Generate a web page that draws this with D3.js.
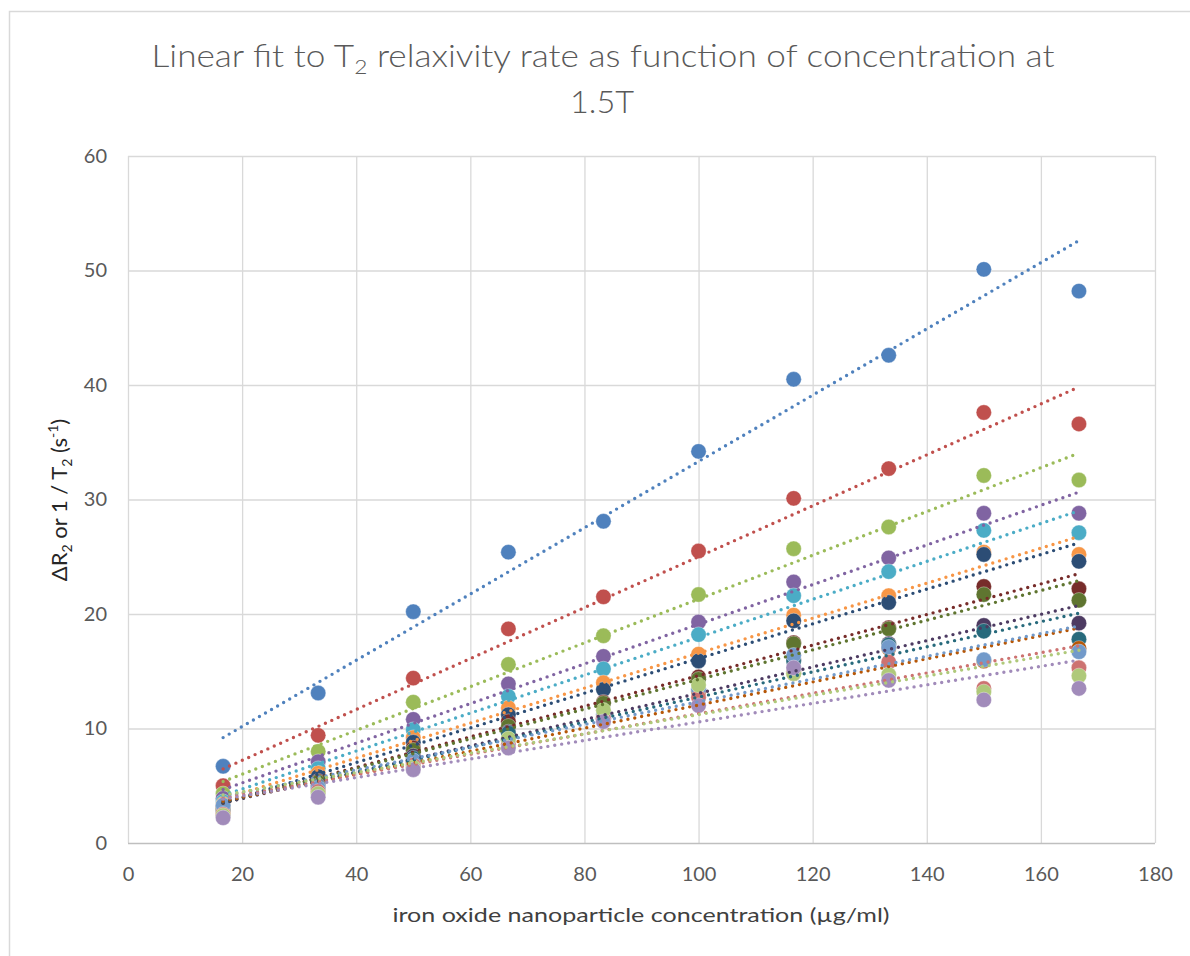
<!DOCTYPE html>
<html><head><meta charset="utf-8">
<script src="https://cdn.jsdelivr.net/npm/d3@7"></script>
<style>body{margin:0;background:#fff} text{font-family:Lato,"Open Sans",sans-serif}</style>
</head><body><svg id="c" width="1190" height="956"></svg>
<script>
// concentrations (µg/ml)
const xValues = [16.67, 33.33, 50, 66.67, 83.33, 100, 116.67, 133.33, 150, 166.67];
const seriesColors = ["#4F81BD","#C0504D","#9BBB59","#8064A2","#4BACC6","#F79646","#2C4D75","#772C2A","#5F7530","#4D3B62","#276A7C","#B65708","#729ACA","#CD7371","#AFC97A","#A18BBA"];
const s1  = [6.7, 13.1, 20.2, 25.4, 28.1, 34.2, 40.5, 42.6, 50.1, 48.2];
const s2  = [5.0, 9.4, 14.4, 18.7, 21.5, 25.5, 30.1, 32.7, 37.6, 36.6];
const s3  = [4.3, 8.0, 12.3, 15.6, 18.1, 21.7, 25.7, 27.6, 32.1, 31.7];
const s4  = [3.9, 7.1, 10.8, 13.9, 16.3, 19.3, 22.8, 24.9, 28.8, 28.8];
const s5  = [3.6, 6.5, 9.9, 12.8, 15.2, 18.2, 21.6, 23.7, 27.3, 27.1];
const s6  = [3.4, 6.1, 9.2, 11.8, 14.0, 16.5, 19.9, 21.6, 25.4, 25.2];
const s7  = [3.2, 5.8, 8.8, 11.2, 13.4, 15.9, 19.4, 21.0, 25.2, 24.6];
const s8  = [3.0, 5.4, 8.3, 10.6, 12.3, 14.5, 17.5, 18.8, 22.4, 22.2];
const s9  = [2.9, 5.3, 8.1, 10.2, 12.2, 14.3, 17.4, 18.7, 21.7, 21.2];
const s10 = [2.8, 5.0, 7.6, 9.7, 11.0, 13.5, 16.0, 17.4, 19.0, 19.2];
const s11 = [2.7, 4.9, 7.4, 9.6, 10.9, 13.3, 15.9, 17.3, 18.5, 17.8];
const s12 = [2.6, 4.7, 7.1, 9.0, 10.8, 13.2, 14.8, 17.0, 15.9, 17.0];
const s13 = [3.3, 4.8, 7.2, 9.0, 11.2, 13.4, 16.4, 17.1, 16.0, 16.7];
const s14 = [2.5, 4.5, 6.8, 8.6, 10.9, 12.7, 15.0, 15.8, 13.5, 15.3];
const s15 = [2.4, 4.3, 6.6, 9.1, 11.6, 13.8, 14.8, 14.7, 13.2, 14.6];
const s16 = [2.2, 4.0, 6.4, 8.3, 10.6, 12.0, 15.3, 14.2, 12.5, 13.5];
const allSeries = [s1,s2,s3,s4,s5,s6,s7,s8,s9,s10,s11,s12,s13,s14,s15,s16];
const xTicks = [0,20,40,60,80,100,120,140,160,180];
const yTicks = [0,10,20,30,40,50,60];

const svg = d3.select("#c");
svg.append("rect").attr("x",9.5).attr("y",11.5).attr("width",1300).attr("height",1000)
  .attr("fill","#fff").attr("stroke","#d9d9d9").attr("stroke-width",1.5);

const L=128,R=1155,T=156,B=843;
const x = d3.scaleLinear().domain([0,180]).range([L,R]);
const y = d3.scaleLinear().domain([0,60]).range([B,T]);

// gridlines
svg.append("g").selectAll("line.v").data(xTicks).join("line")
  .attr("x1",d=>x(d)+0.5).attr("x2",d=>x(d)+0.5).attr("y1",T).attr("y2",B)
  .attr("stroke","#d9d9d9").attr("stroke-width",1.3);
svg.append("g").selectAll("line.h").data(yTicks).join("line")
  .attr("y1",d=>y(d)+0.5).attr("y2",d=>y(d)+0.5).attr("x1",L).attr("x2",R)
  .attr("stroke",d=>d===0?"#bfbfbf":"#d9d9d9").attr("stroke-width",1.3);

// axes (labels)
const xa = svg.append("g").attr("transform",`translate(0,${B})`)
  .call(d3.axisBottom(x).tickValues(xTicks).tickSize(0).tickPadding(24));
const ya = svg.append("g").attr("transform",`translate(${L},0)`)
  .call(d3.axisLeft(y).tickValues(yTicks).tickSize(0).tickPadding(21));
[xa,ya].forEach(a=>{a.select(".domain").remove();
  a.selectAll("text").attr("font-family","Lato").attr("font-size",20).attr("font-weight",400).attr("fill","#595959");});

// markers
allSeries.forEach((s,i)=>{
  svg.append("g").selectAll("circle").data(s).join("circle")
    .attr("cx",(d,j)=>x(xValues[j])).attr("cy",d=>y(d)).attr("r",7.7)
    .attr("fill",seriesColors[i]).attr("stroke","#fff").attr("stroke-width",0.6).attr("stroke-opacity",0.6);
});

// linear trendlines (least squares fit of each series)
allSeries.forEach((s,i)=>{
  const n=s.length, mx=d3.mean(xValues), my=d3.mean(s);
  let num=0, den=0;
  for(let j=0;j<n;j++){num+=(xValues[j]-mx)*(s[j]-my);den+=(xValues[j]-mx)**2;}
  const b=num/den, a=my-b*mx;
  const x0=xValues[0], x1=xValues[n-1];
  svg.append("line").attr("x1",x(x0)).attr("y1",y(a+b*x0)).attr("x2",x(x1)).attr("y2",y(a+b*x1))
    .attr("stroke",seriesColors[i]).attr("stroke-width",3.4).attr("stroke-linecap","round")
    .attr("stroke-dasharray","0 7");
});

// title
const t1 = svg.append("text").attr("x",603).attr("y",67).attr("text-anchor","middle")
  .attr("font-size",31).attr("font-weight",300).attr("fill","#595959").attr("textLength",903).attr("lengthAdjust","spacingAndGlyphs");
t1.append("tspan").text("Linear fit to T");
t1.append("tspan").attr("font-size",20).attr("dy",7).text("2");
t1.append("tspan").attr("dy",-7).text(" relaxivity rate as function of concentration at");
svg.append("text").attr("x",602).attr("y",113).attr("text-anchor","middle")
  .attr("font-size",31).attr("font-weight",300).attr("fill","#595959").attr("textLength",64).attr("lengthAdjust","spacingAndGlyphs").text("1.5T");

// axis titles
svg.append("text").attr("x",641).attr("y",922).attr("text-anchor","middle").attr("font-size",20)
  .attr("font-weight",400).attr("fill","#404040").attr("textLength",497).attr("lengthAdjust","spacingAndGlyphs")
  .text("iron oxide nanoparticle concentration (µg/ml)");
const yt = svg.append("text").attr("transform","translate(67,500) rotate(-90)").attr("text-anchor","middle")
  .attr("font-size",22).attr("fill","#262626");
yt.append("tspan").text("ΔR");
yt.append("tspan").attr("font-size",14).attr("dy",5).text("2");
yt.append("tspan").attr("dy",-5).text("  or 1 / T");
yt.append("tspan").attr("font-size",14).attr("dy",5).text("2");
yt.append("tspan").attr("dy",-5).text(" (s");
yt.append("tspan").attr("font-size",14).attr("dy",-9).text("-1");
yt.append("tspan").attr("dy",9).text(")");
</script></body></html>
